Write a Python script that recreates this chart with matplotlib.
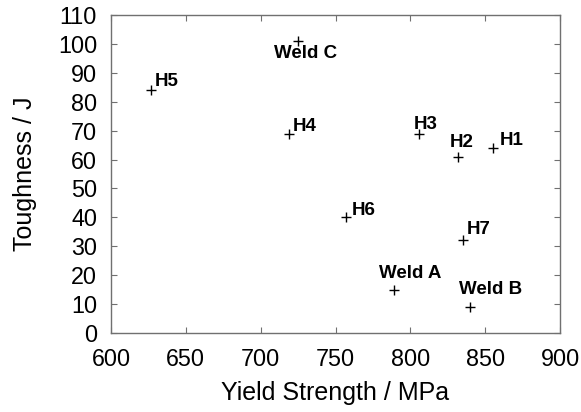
import matplotlib
matplotlib.use("Agg")
import matplotlib.pyplot as plt

# Weld / heat identifiers with their yield strength (MPa) and Charpy toughness (J)
names = ["H1", "H2", "H3", "H4", "H5", "H6", "H7", "Weld A", "Weld B", "Weld C"]
yield_strength = [855, 832, 806, 719, 627, 757, 835, 789, 840, 725]
toughness = [64, 61, 69, 69, 84, 40, 32, 15, 9, 101]

x_ticks = [600, 650, 700, 750, 800, 850, 900]
y_ticks = [0, 10, 20, 30, 40, 50, 60, 70, 80, 90, 100, 110]

# Label placement relative to each marker, in pixels (left edge / baseline)
label_offsets = {
    "H1": (7, 3), "H2": (-8, 10), "H3": (-6, 5), "H4": (4, 3),
    "H5": (3, 4), "H6": (6, 2), "H7": (4, 6),
    "Weld A": (-15, 12), "Weld B": (-11, 13), "Weld C": (-24, -17),
}

plt.rcParams["font.family"] = ["Liberation Sans", "DejaVu Sans"]

fig = plt.figure(figsize=(5.81, 4.12), dpi=100)
ax = fig.add_axes([111 / 581, 79 / 412, 449 / 581, 318 / 412])

ax.plot(yield_strength, toughness, linestyle="none", marker="+",
        color="black", markersize=7.8, markeredgewidth=1.0)

for name, xv, yv in zip(names, yield_strength, toughness):
    dx, dy = label_offsets[name]
    ax.annotate(name, (xv, yv), xytext=(dx, dy), textcoords="offset pixels",
                ha="left", va="baseline", fontsize=13.5, fontweight="bold")

ax.set_xlim(600, 900)
ax.set_ylim(0, 110)
ax.set_xticks(x_ticks)
ax.set_yticks(y_ticks)

frame_color = "#707070"
for spine in ax.spines.values():
    spine.set_color(frame_color)
    spine.set_linewidth(1.0)

ax.tick_params(direction="in", length=4, width=0.8, color=frame_color,
               top=True, right=True, labelsize=16.8, labelcolor="black")
ax.tick_params(axis="x", pad=11)
ax.tick_params(axis="y", pad=10)

ax.set_xlabel("Yield Strength / MPa", fontsize=18, labelpad=7)
ax.set_ylabel("Toughness / J", fontsize=18, labelpad=15)

fig.savefig("out.png", dpi=100)
